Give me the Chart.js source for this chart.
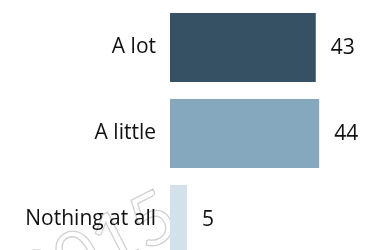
<!DOCTYPE html>
<html>
<head>
<meta charset="utf-8">
<script src="https://cdn.jsdelivr.net/npm/chart.js@4"></script>
<style>
  html, body { margin: 0; padding: 0; background: #fff; overflow: hidden; }
  #chart { position: absolute; left: 0; top: 0; }
</style>
</head>
<body>
<canvas id="chart" width="369" height="263"></canvas>
<script>
const categories = ["A lot", "A little", "Nothing at all"];
const values = [43, 44, 5];
const barColors = ["#375164", "#86a8bf", "#d3e1ea"];
const watermarkText = "2015";

const FONT = "'Open Sans', 'Liberation Sans', sans-serif";

// value labels to the right of each bar
const valueLabels = {
  id: "valueLabels",
  afterDatasetsDraw(chart) {
    const ctx = chart.ctx;
    const meta = chart.getDatasetMeta(0);
    ctx.save();
    ctx.font = "21px " + FONT;
    ctx.fillStyle = "#111";
    ctx.textAlign = "left";
    ctx.textBaseline = "middle";
    meta.data.forEach((bar, i) => {
      ctx.fillText(String(values[i]), bar.x + 15, bar.y + 1);
    });
    ctx.restore();
  }
};

// faint outlined year stamp in the lower left
const watermark = {
  id: "watermark",
  beforeDraw(chart) {
    const ctx = chart.ctx;
    ctx.save();
    ctx.translate(33, 308);
    ctx.rotate(-0.47);
    ctx.font = "72px Lato, sans-serif";
    ctx.strokeStyle = "#d2d2d2";
    ctx.lineWidth = 1.3;
    ctx.strokeText(watermarkText, 0, 0);
    ctx.restore();
  }
};

const ctx = document.getElementById("chart").getContext("2d");
new Chart(ctx, {
  type: "bar",
  data: {
    labels: categories,
    datasets: [{
      data: values,
      backgroundColor: barColors,
      borderWidth: 0,
      barPercentage: 0.802,
      categoryPercentage: 1
    }]
  },
  options: {
    indexAxis: "y",
    responsive: false,
    animation: false,
    events: [],
    layout: { padding: { top: 4.5, bottom: 0.5, left: 0, right: 29.5 } },
    plugins: {
      legend: { display: false },
      tooltip: { enabled: false }
    },
    scales: {
      x: { display: false, min: 0, max: 50 },
      y: {
        grid: { display: false, drawTicks: false },
        border: { display: false },
        ticks: {
          color: "#111",
          padding: 14,
          font: { family: FONT, size: 21 }
        },
        afterFit(scale) {
          scale.width = 170;
          scale.paddingTop = 0;
          scale.paddingBottom = 0;
        }
      }
    }
  },
  plugins: [valueLabels, watermark]
});
</script>
</body>
</html>
